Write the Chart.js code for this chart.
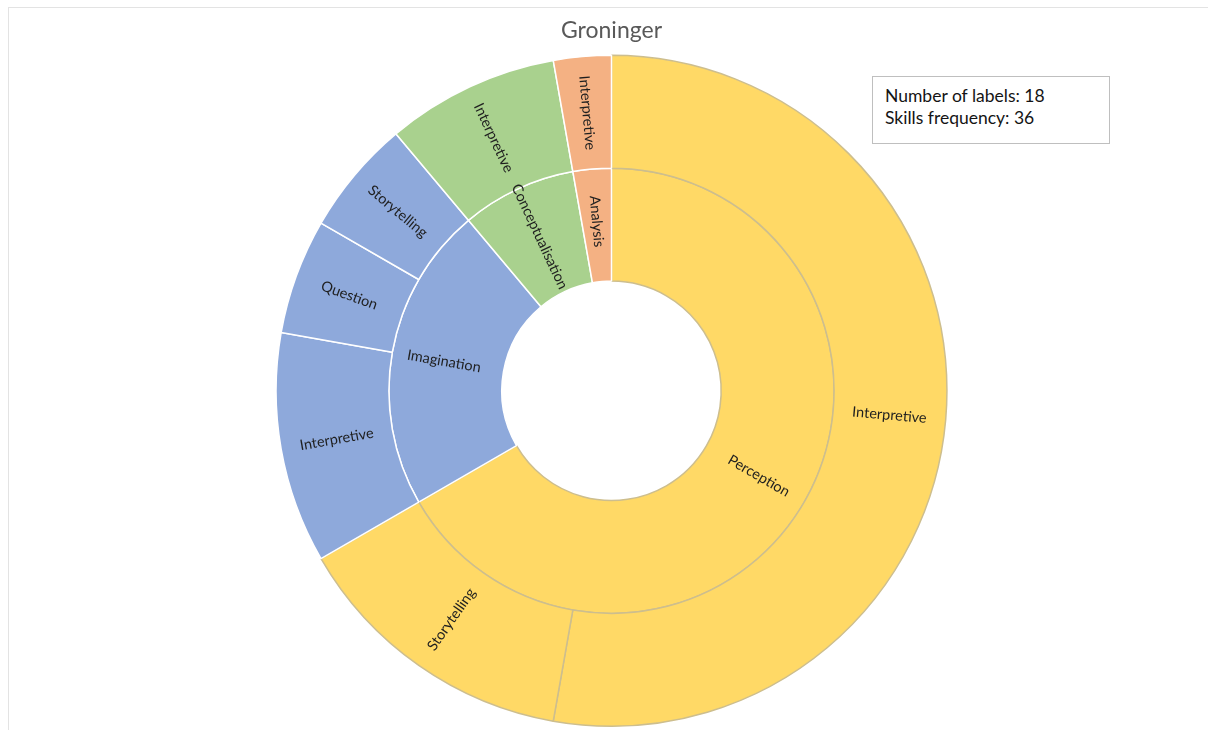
<!DOCTYPE html>
<html>
<head>
<meta charset="utf-8">
<script src="https://cdn.jsdelivr.net/npm/chart.js@4/dist/chart.umd.min.js"></script>
<style>
  html, body { margin: 0; padding: 0; background: #fff; }
  #wrap { position: relative; width: 1208px; height: 730px; overflow: hidden; }
  #frame { position: absolute; left: 8px; top: 7px; width: 1240px; height: 760px; border: 1px solid #e3e3e3; box-sizing: border-box; }
  #c { position: absolute; left: 0; top: 0; }
  #info { position: absolute; left: 872px; top: 76px; width: 238px; height: 68px; box-sizing: border-box;
          border: 1px solid #bfbfbf; background: #fff; padding: 8px 0 0 12px;
          font-family: Lato, "Open Sans", sans-serif; font-size: 17.5px; line-height: 22px; color: #141414; }
</style>
</head>
<body>
<div id="wrap">
  <div id="frame"></div>
  <canvas id="c" width="1208" height="730"></canvas>
  <div id="info">Number of labels: 18<br>Skills frequency: 36</div>
</div>
<script>
// ---- data ----
const chartTitle = "Groninger";
const innerLabels = ["Perception", "Imagination", "Conceptualisation", "Analysis"];
const innerValues = [24, 8, 3, 1];
const innerColors = ["#FFD966", "#8EA9DB", "#A9D18E", "#F4B183"];

const outerLabels = ["Interpretive", "Storytelling", "Interpretive", "Question", "Storytelling", "Interpretive", "Interpretive"];
const outerValues = [19, 5, 4, 2, 2, 3, 1];
const outerParent = [0, 0, 1, 1, 1, 2, 3];

const yellowBorder = "#CDBE8E";
function bordersFor(colors) {
  return colors.map(c => c === "#FFD966" ? yellowBorder : "#ffffff");
}
const outerColors = outerParent.map(i => innerColors[i]);

const labelPlugin = {
  id: "arcLabels",
  afterDatasetsDraw(chart) {
    const ctx = chart.ctx;
    chart.data.datasets.forEach((ds, di) => {
      const meta = chart.getDatasetMeta(di);
      meta.data.forEach((arc, i) => {
        const p = arc.getProps(["x", "y", "startAngle", "endAngle", "innerRadius", "outerRadius"], true);
        const a = (p.startAngle + p.endAngle) / 2;
        const r = (p.innerRadius + p.outerRadius) / 2 + (di === 1 ? 4 : 0);
        const x = p.x + Math.cos(a) * r;
        const y = p.y + Math.sin(a) * r;
        let rot = a;
        if (Math.cos(a) < 0) rot = a + Math.PI;
        ctx.save();
        ctx.translate(x, y);
        ctx.rotate(rot);
        ctx.font = "14.5px Lato, 'Open Sans', sans-serif";
        ctx.fillStyle = "#1f1f1f";
        ctx.textAlign = "center";
        ctx.textBaseline = "middle";
        ctx.fillText(ds.labels[i], 0, 0);
        ctx.restore();
      });
    });
  }
};

new Chart(document.getElementById("c"), {
  type: "doughnut",
  data: {
    labels: outerLabels,
    datasets: [
      { labels: outerLabels, data: outerValues, backgroundColor: outerColors, borderColor: bordersFor(outerColors), borderWidth: 1.5 },
      { labels: innerLabels, data: innerValues, backgroundColor: innerColors, borderColor: bordersFor(innerColors), borderWidth: 1.5 }
    ]
  },
  options: {
    responsive: false,
    devicePixelRatio: 1,
    animation: false,
    events: [],
    cutout: "32.7%",
    hoverOffset: 0,
    layout: { padding: { top: 0, bottom: 3, left: 15, right: 0 } },
    plugins: {
      legend: { display: false },
      tooltip: { enabled: false },
      title: {
        display: true,
        text: chartTitle,
        color: "#595959",
        font: { family: "Lato, 'Open Sans', sans-serif", size: 23, weight: "normal", lineHeight: 1.2 },
        padding: { top: 17, bottom: 10 }
      }
    }
  },
  plugins: [labelPlugin]
});
</script>
</body>
</html>
